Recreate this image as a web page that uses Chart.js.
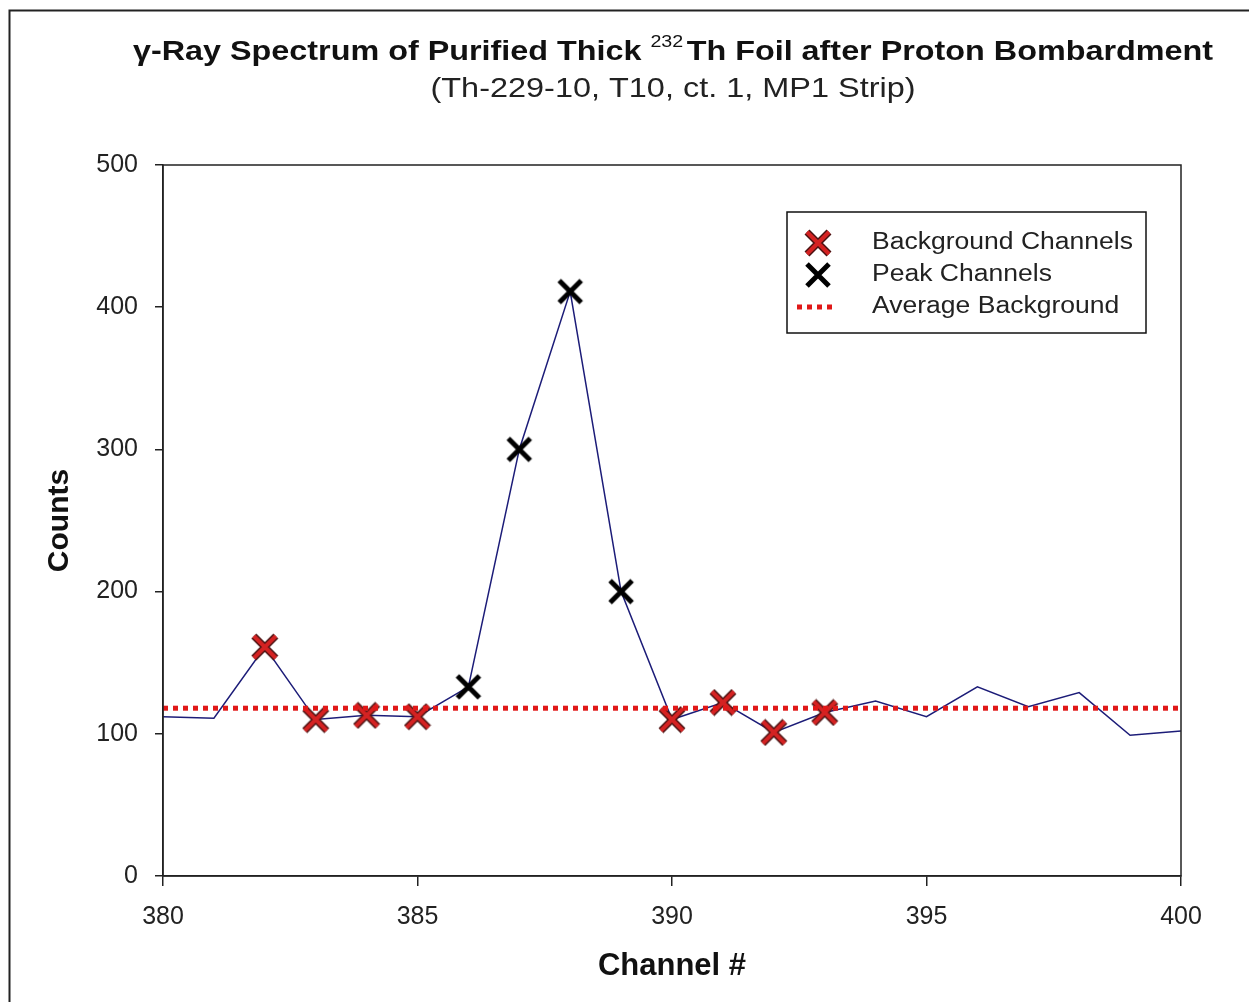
<!DOCTYPE html>
<html>
<head>
<meta charset="utf-8">
<script src="https://cdn.jsdelivr.net/npm/chart.js@4.4.1/dist/chart.umd.min.js"></script>
<style>
  html, body { margin: 0; padding: 0; background: #fff; }
  #wrap { width: 1249px; height: 1002px; }
</style>
</head>
<body>
<div id="wrap"><canvas id="myChart" width="1249" height="1002"></canvas></div>
<script>
// spectrum channels and counts
const channels = [380, 381, 382, 383, 384, 385, 386, 387, 388, 389, 390, 391, 392, 393, 394, 395, 396, 397, 398, 399, 400]
const counts = [112, 111, 161, 110, 113, 112, 133, 300, 411, 200, 110, 122, 101, 115, 123, 112, 133, 119, 129, 99, 102]
const bgChannels = [382, 383, 384, 385, 390, 391, 392, 393]
const peakChannels = [386, 387, 388, 389]
const avgBackground = 118
const xTicks = [380, 385, 390, 395, 400]
const yTicks = [0, 100, 200, 300, 400, 500]

const titleParts = ['γ-Ray Spectrum of Purified Thick ', '232', 'Th Foil after Proton Bombardment']
const subtitle = '(Th-229-10, T10, ct. 1, MP1 Strip)'

const FONT = "'Liberation Sans', Arial, sans-serif"
const countAt = ch => counts[channels.indexOf(ch)]

// little canvases used as point styles for the X markers
function makeCross(outer, inner, wOuter, wInner) {
  const c = document.createElement('canvas')
  c.width = 28; c.height = 28
  const g = c.getContext('2d')
  const draw = (col, w) => {
    g.strokeStyle = col; g.lineWidth = w; g.lineCap = 'butt'
    g.beginPath()
    g.moveTo(3, 3); g.lineTo(25, 25)
    g.moveTo(25, 3); g.lineTo(3, 25)
    g.stroke()
  }
  draw(outer, wOuter)
  if (inner) draw(inner, wInner)
  return c
}
const redCross = makeCross('#4a1212', '#d42222', 7, 4)
const blackCross = makeCross('#000', null, 5, 0)

// the original text is a bit wider than it is tall, so squeeze it out sideways
function stretchedText(ctx, text, x, y, sx) {
  ctx.save()
  ctx.translate(x, y)
  ctx.scale(sx, 1)
  ctx.fillText(text, 0, 0)
  ctx.restore()
}

const frame = {
  id: 'frame',
  beforeDraw(chart) {
    const ctx = chart.ctx
    ctx.save()
    ctx.fillStyle = '#fff'
    ctx.fillRect(0, 0, chart.width, chart.height)
    ctx.strokeStyle = '#222'
    ctx.lineWidth = 2
    ctx.beginPath()
    ctx.moveTo(9.5, chart.height)
    ctx.lineTo(9.5, 10.5)
    ctx.lineTo(chart.width, 10.5)
    ctx.stroke()

    // titles
    const a = chart.chartArea
    const cx = (a.left + a.right) / 2 + 1
    ctx.textBaseline = 'alphabetic'
    ctx.textAlign = 'left'
    ctx.fillStyle = '#111'
    const big = 'bold 28px ' + FONT, sup = '17px ' + FONT
    ctx.font = big
    const w0 = ctx.measureText(titleParts[0]).width
    const w2 = ctx.measureText(titleParts[2]).width
    ctx.font = sup
    const w1 = ctx.measureText(titleParts[1]).width + 3
    const sx = 1080 / (w0 + w1 + w2)
    let x = cx - 540
    ctx.font = big
    stretchedText(ctx, titleParts[0], x, 60, sx)
    x += w0 * sx
    ctx.font = sup
    stretchedText(ctx, titleParts[1], x, 47, sx)
    x += w1 * sx
    ctx.font = big
    stretchedText(ctx, titleParts[2], x, 60, sx)

    ctx.font = '28px ' + FONT
    ctx.fillStyle = '#222'
    const ws = ctx.measureText(subtitle).width
    const ssx = 485 / ws
    stretchedText(ctx, subtitle, cx - 242.5, 97, ssx)
    ctx.restore()
  },
  afterDraw(chart) {
    const ctx = chart.ctx
    const a = chart.chartArea
    ctx.save()
    // box round the plot area
    ctx.strokeStyle = '#222'
    ctx.lineWidth = 1.5
    ctx.strokeRect(a.left, a.top, a.right - a.left, a.bottom - a.top)

    // legend inside the plot
    const lx = a.right - 394, ly = a.top + 47, lw = 359, lh = 121
    ctx.fillStyle = '#fff'
    ctx.fillRect(lx, ly, lw, lh)
    ctx.lineWidth = 1.5
    ctx.strokeStyle = '#111'
    ctx.strokeRect(lx, ly, lw, lh)
    const mx = lx + 31
    const rows = [ly + 31, ly + 63, ly + 95]
    ctx.drawImage(redCross, mx - 14, rows[0] - 14)
    ctx.drawImage(blackCross, mx - 14, rows[1] - 14)
    ctx.strokeStyle = '#e01818'
    ctx.lineWidth = 5
    ctx.setLineDash([5, 5])
    ctx.beginPath()
    ctx.moveTo(lx + 10, rows[2]); ctx.lineTo(lx + 50, rows[2])
    ctx.stroke()
    ctx.setLineDash([])
    ctx.fillStyle = '#222'
    ctx.font = '23px ' + FONT
    ctx.textBaseline = 'middle'
    ctx.textAlign = 'left'
    const names = chart.data.datasets.filter(d => d.inLegend).map(d => d.label)
    const lsx = 261 / ctx.measureText(names[0]).width
    names.forEach((n, i) => stretchedText(ctx, n, lx + 85, rows[i], lsx))
    ctx.restore()
  }
}

const ctx = document.getElementById('myChart')
new Chart(ctx, {
  type: 'line',
  data: {
    datasets: [
      {
        label: 'Spectrum',
        data: channels.map((c, i) => ({ x: c, y: counts[i] })),
        borderColor: '#1c1c78',
        borderWidth: 1.5,
        pointRadius: 0,
        tension: 0,
        order: 4
      },
      {
        label: 'Background Channels',
        inLegend: true,
        data: bgChannels.map(c => ({ x: c, y: countAt(c) })),
        showLine: false,
        pointStyle: redCross,
        pointRadius: 12,
        order: 2
      },
      {
        label: 'Peak Channels',
        inLegend: true,
        data: peakChannels.map(c => ({ x: c, y: countAt(c) })),
        showLine: false,
        pointStyle: blackCross,
        pointRadius: 12,
        order: 2
      },
      {
        label: 'Average Background',
        inLegend: true,
        data: [{ x: channels[0], y: avgBackground }, { x: channels[channels.length - 1], y: avgBackground }],
        borderColor: '#e01818',
        borderWidth: 5,
        borderDash: [5, 5],
        pointRadius: 0,
        order: 1
      }
    ]
  },
  options: {
    responsive: false,
    animation: false,
    devicePixelRatio: 1,
    layout: { padding: { top: 165, left: 0, right: 68, bottom: 0 } },
    plugins: {
      legend: { display: false },
      tooltip: { enabled: false },
      title: { display: false }
    },
    scales: {
      x: {
        type: 'linear',
        min: 380,
        max: 400,
        afterBuildTicks: s => { s.ticks = xTicks.map(v => ({ value: v })) },
        afterFit: s => { s.height = 126 },
        grid: { display: true, drawOnChartArea: false, drawTicks: true, tickLength: 10, color: '#222', lineWidth: 1.5 },
        border: { display: true, color: '#222', width: 1.5 },
        ticks: { color: '#222', font: { family: FONT, size: 25 }, padding: 16, maxRotation: 0 },
        title: {
          display: true,
          text: 'Channel #',
          color: '#111',
          font: { family: FONT, size: 31, weight: 'bold' },
          padding: { top: 0, bottom: 17 }
        }
      },
      y: {
        min: 0,
        max: 500,
        afterBuildTicks: s => { s.ticks = yTicks.map(v => ({ value: v })) },
        afterFit: s => { s.width = 163 },
        grid: { display: true, drawOnChartArea: false, drawTicks: true, tickLength: 8, color: '#222', lineWidth: 1.5 },
        border: { display: true, color: '#222', width: 1.5 },
        ticks: { color: '#222', font: { family: FONT, size: 25 }, padding: 17 },
        title: {
          display: true,
          text: 'Counts',
          color: '#111',
          font: { family: FONT, size: 30, weight: 'bold' },
          padding: { top: 42, bottom: 0 }
        }
      }
    }
  },
  plugins: [frame]
})
</script>
</body>
</html>
